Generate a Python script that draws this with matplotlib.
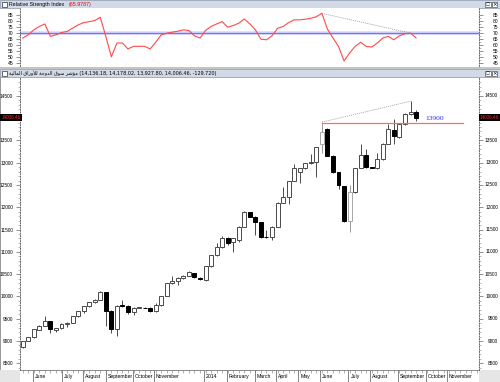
import matplotlib
matplotlib.use("Agg")
import matplotlib.pyplot as plt
from matplotlib.patches import Rectangle
import numpy as np

plt.rcParams['font.family'] = ['Liberation Sans', 'DejaVu Sans']

# ---------------- data ----------------
opens = [8860, 9005, 9080, 9255, 9345, 9440, 9250, 9295, 9380, 9410,
         9560, 9665, 9780, 9870, 9920, 10090, 9680, 9260, 9810, 9790,
         9645, 9750, 9750, 9750, 9670, 9800, 10010, 10295, 10345, 10420,
         10460, 10520, 10420, 10380, 10675, 10920, 11100, 11300, 11220, 11270,
         11560, 11900, 11790, 11660, 11340, 11340, 11560, 12105, 12230, 12590,
         12800, 12870, 12990, 13015, 13410, 13760, 13160, 12790, 12470, 11690,
         12340, 12880, 13165, 12900, 12870, 13090, 13430, 13735, 13570, 13870,
         14090, 14136.18]
highs = [9010, 9090, 9270, 9360, 9560, 9450, 9300, 9395, 9420, 9570,
         9675, 9790, 9880, 9935, 10115, 10100, 9690, 9800, 9920, 9800,
         9770, 9770, 9760, 9760, 9860, 10020, 10300, 10460, 10430, 10470,
         10560, 10530, 10430, 10680, 10925, 11190, 11350, 11340, 11310, 11570,
         11910, 11905, 11800, 11670, 11480, 11570, 12110, 12450, 12600, 12980,
         12880, 13000, 13200, 13360, 13910, 13770, 13170, 12800, 12480, 12490,
         12890, 13410, 13310, 12910, 13220, 13440, 13870, 13980, 13880, 14120,
         14380, 14178.02]
lows = [8850, 8990, 9060, 9240, 9330, 9170, 9210, 9280, 9320, 9400,
        9550, 9620, 9770, 9860, 9910, 9345, 9190, 9110, 9770, 9600,
        9585, 9740, 9730, 9660, 9650, 9790, 10000, 10290, 10260, 10400,
        10450, 10420, 10370, 10350, 10670, 10910, 11090, 11150, 11000, 11230,
        11550, 11780, 11370, 11320, 11320, 11260, 11550, 12090, 12080, 12580,
        12545, 12860, 12980, 12670, 13220, 13150, 12780, 12420, 11660, 11450,
        12330, 12870, 12890, 12880, 12860, 13050, 13420, 13420, 13560, 13840,
        14070, 13927.80]
closes = [9000, 9080, 9260, 9345, 9440, 9260, 9295, 9380, 9410, 9560,
          9665, 9780, 9870, 9920, 10105, 9680, 9260, 9790, 9790, 9640,
          9740, 9755, 9745, 9680, 9800, 10010, 10295, 10345, 10420, 10460,
          10550, 10430, 10385, 10675, 10920, 11100, 11300, 11190, 11300, 11560,
          11900, 11790, 11660, 11340, 11335, 11560, 12105, 12230, 12590, 12870,
          12870, 12990, 13015, 13350, 13690, 13160, 12790, 12490, 11690, 12340,
          12880, 13165, 12900, 12890, 13090, 13430, 13760, 13590, 13870, 14090,
          14136.18, 14006.46]
rsi = [65.9, 68.6, 72.7, 75.5, 77.6, 67.3, 68.6, 70.5, 71.4, 74.1,
       76.8, 78.7, 79.5, 80.4, 83.1, 67.3, 50.4, 61.8, 61.8, 56.9,
       59.1, 59.1, 59.1, 56.9, 62.4, 68.6, 70.0, 70.8, 71.6, 72.7,
       72.2, 67.8, 65.9, 72.2, 75.5, 77.6, 79.5, 74.9, 76.3, 78.2,
       81.7, 77.6, 72.7, 65.0, 64.5, 67.8, 74.0, 75.5, 78.7, 81.0,
       81.0, 81.5, 82.3, 83.6, 86.4, 73.3, 66.0, 59.0, 47.0, 53.6,
       59.0, 62.4, 59.0, 58.5, 61.8, 66.0, 67.3, 64.5, 67.8, 69.5,
       70.0, 65.98]
rsi_last = 65.9787

month_labels = ["June", "July", "August", "September", "October", "November",
                "2014", "February", "March", "April", "May", "June", "July",
                "August", "September", "October", "November"]
month_pos = [1.91, 7.09, 10.94, 15.04, 19.96, 23.7, 32.7, 36.8, 41.9, 45.8,
             49.75, 53.7, 58.8, 62.7, 67.8, 72.75, 76.6]

price_ticks = [8500, 9000, 9500, 10000, 10500, 11000, 11500, 12000, 12500,
               13000, 13500, 14000, 14500]
price_labels_shown = [8500, 9000, 9500, 10000, 10500, 11000, 11500, 12000,
                      12500, 13000, 13500, 14500]
rsi_ticks = [45, 50, 55, 60, 65, 70, 75, 80, 85]

support_level = 13900
rsi_level = 70
trend_bars = [54, 70]
gray_bars = [54, 59]

index_name = "مؤشر سوق الدوحة للأوراق المالية"

# ------------- Arabic shaping (visual order) -------------
AR_FORMS = {
    'ا': ('\uFE8D', '\uFE8E', None, None),
    'أ': ('\uFE83', '\uFE84', None, None),
    'ؤ': ('\uFE85', '\uFE86', None, None),
    'د': ('\uFEA9', '\uFEAA', None, None),
    'ر': ('\uFEAD', '\uFEAE', None, None),
    'و': ('\uFEED', '\uFEEE', None, None),
    'ة': ('\uFE93', '\uFE94', None, None),
    'م': ('\uFEE1', '\uFEE2', '\uFEE3', '\uFEE4'),
    'ش': ('\uFEB5', '\uFEB6', '\uFEB7', '\uFEB8'),
    'س': ('\uFEB1', '\uFEB2', '\uFEB3', '\uFEB4'),
    'ق': ('\uFED5', '\uFED6', '\uFED7', '\uFED8'),
    'ل': ('\uFEDD', '\uFEDE', '\uFEDF', '\uFEE0'),
    'ح': ('\uFEA1', '\uFEA2', '\uFEA3', '\uFEA4'),
    'ي': ('\uFEF1', '\uFEF2', '\uFEF3', '\uFEF4'),
}
LAM_ALEF = {'ا': ('\uFEFB', '\uFEFC'), 'أ': ('\uFEF7', '\uFEF8')}


def shape_word(w):
    units = []
    i = 0
    while i < len(w):
        if w[i] == 'ل' and i + 1 < len(w) and w[i + 1] in LAM_ALEF:
            units.append(('LA', w[i + 1]))
            i += 2
        else:
            units.append(('C', w[i]))
            i += 1

    def dual(u):
        return u[0] == 'C' and u[1] in AR_FORMS and AR_FORMS[u[1]][2] is not None

    out = []
    for k, u in enumerate(units):
        prev_conn = k > 0 and dual(units[k - 1])
        if u[0] == 'LA':
            out.append(LAM_ALEF[u[1]][1 if prev_conn else 0])
            continue
        if u[1] not in AR_FORMS:
            out.append(u[1])
            continue
        f = AR_FORMS[u[1]]
        next_conn = dual(u) and k + 1 < len(units)
        if prev_conn and next_conn:
            out.append(f[3])
        elif prev_conn:
            out.append(f[1])
        elif next_conn:
            out.append(f[2])
        else:
            out.append(f[0])
    return ''.join(out)


def shape(text):
    return ' '.join(shape_word(w)[::-1] for w in reversed(text.split(' ')))


# ---------------- figure ----------------
W, H = 500, 382
fig = plt.figure(figsize=(W / 100, H / 100), dpi=100)
fig.patch.set_facecolor('white')

bg = fig.add_axes([0, 0, 1, 1], zorder=0)
bg.set_xlim(0, W)
bg.set_ylim(H, 0)
bg.axis('off')

title_col = '#d3dae7'
title_edge = '#97a3b8'
bg.add_patch(Rectangle((0, 0), W, 8, facecolor=title_col, edgecolor=title_edge, lw=0.6))
bg.add_patch(Rectangle((0, 66.5), W, 2.5, facecolor='#c4c4c4', edgecolor='none'))
bg.add_patch(Rectangle((0, 69), W, 8, facecolor=title_col, edgecolor=title_edge, lw=0.6))
for y0 in (1.5, 70.5):
    bg.add_patch(Rectangle((2, y0), 5, 5, facecolor='white', edgecolor='#333333', lw=0.5))
    bg.add_patch(Rectangle((485, y0), 5.5, 5.5, facecolor='white', edgecolor='#555555', lw=0.5))
    bg.add_patch(Rectangle((491.5, y0), 5.5, 5.5, facecolor='white', edgecolor='#555555', lw=0.5))
    bg.text(487.75, y0 + 2.9, '□', fontsize=3, ha='center', va='center', family='DejaVu Sans')
    bg.text(494.25, y0 + 2.9, '×', fontsize=4, ha='center', va='center', family='DejaVu Sans')
bg.add_patch(Rectangle((0, 370), 20, 12, facecolor='#e6e6e6', edgecolor='none'))
bg.add_patch(Rectangle((479, 370), 21, 12, facecolor='#e6e6e6', edgecolor='none'))
bg.add_patch(Rectangle((0, 77), 1.2, 293, facecolor='#9a9a9a', edgecolor='none'))

bg.text(9, 4.2, "Relative Strength Index", fontsize=3.8, va='center', ha='left', color='black')
bg.text(68.5, 4.2, "(%.4f)" % rsi_last, fontsize=3.8, va='center', ha='left', color='#e00000')

o_l, h_l, l_l, c_l = opens[-1], highs[-1], lows[-1], closes[-1]
chg = c_l - closes[-2]
main_title = shape(index_name) + " (%s, %s, %s, %s, %s)" % (
    format(o_l, ',.2f'), format(h_l, ',.2f'), format(l_l, ',.2f'),
    format(c_l, ',.2f'), format(chg, ',.3f'))
bg.text(9, 73.2, main_title, fontsize=3.5, va='center', ha='left', color='black',
        family=['DejaVu Sans'])

x = np.arange(len(closes))
xlim = (-0.49, 82.36)

# ---------------- RSI panel ----------------
ax_r = fig.add_axes([20 / W, 1 - 66 / H, 459 / W, 58 / H], zorder=1)
ax_r.set_xlim(*xlim)
ax_r.set_ylim(42.8, 90.8)
ax_r.axhline(rsi_level, color='#d8d8ff', lw=2.6, zorder=1)
ax_r.axhline(rsi_level, color='#7373f5', lw=0.9, zorder=2)
ax_r.plot(x, rsi, color='#ff4a4a', lw=0.8, zorder=3)
ax_r.plot([trend_bars[0], trend_bars[1]], [rsi[trend_bars[0]], rsi[trend_bars[1]]],
          color='#9a9a9a', lw=0.6, ls=(0, (1.2, 1.2)), zorder=4)
ax_r.set_xticks([])
ax_r.set_yticks(rsi_ticks)
ax_r.set_yticks(np.arange(45, 86, 2.5), minor=True)
ax_r.tick_params(axis='y', which='major', left=True, right=True, labelleft=True,
                 labelright=False, length=3, width=0.5, color='#666666',
                 labelsize=3.6, pad=2)
ax_r.tick_params(axis='y', which='minor', left=True, right=True, length=1.5,
                 width=0.4, color='#888888')
for t in rsi_ticks:
    ax_r.text(1.0414, t, str(t), transform=ax_r.get_yaxis_transform(),
              ha='right', va='center', fontsize=3.6, clip_on=False)
for s in ['top', 'bottom']:
    ax_r.spines[s].set_visible(False)
for s in ['left', 'right']:
    ax_r.spines[s].set_linestyle(':')
    ax_r.spines[s].set_color('#666666')
    ax_r.spines[s].set_linewidth(0.7)

# ---------------- main price panel ----------------
ax = fig.add_axes([20 / W, 1 - 370 / H, 459 / W, 292 / H], zorder=1)
ax.set_xlim(*xlim)
ax.set_ylim(8350, 14900)

body_w = 0.72
for i in range(len(closes)):
    o, hi, lo, c = opens[i], highs[i], lows[i], closes[i]
    up = c >= o
    edge = '#a8a8a8' if i in gray_bars else '#4a4a4a'
    wick_col = '#9a9a9a' if i in gray_bars else '#4a4a4a'
    ax.vlines(x[i], lo, hi, color=wick_col, lw=0.7, zorder=2)
    ax.bar(x[i], c - o, bottom=o, width=body_w,
           facecolor='white' if up else 'black',
           edgecolor=edge if up else 'black', lw=0.7, zorder=3)

ax.plot([trend_bars[0], 79.5], [support_level, support_level], color='#ff6b6b',
        lw=0.9, zorder=4)
ax.text(72.6, support_level + 25, str(support_level), color='#2b2bff', fontsize=5.4,
        family='Liberation Serif', ha='left', va='bottom', zorder=5)
ax.plot(trend_bars, [highs[trend_bars[0]], highs[trend_bars[1]]],
        color='#9a9a9a', lw=0.6, ls=(0, (1.2, 1.2)), zorder=4)

ax.set_yticks(price_ticks)
ax.set_yticks(np.arange(8400, 14900, 100), minor=True)
ax.set_yticklabels([str(t) if t in price_labels_shown else '' for t in price_ticks])
ax.tick_params(axis='y', which='major', left=True, right=True, labelleft=True,
               labelright=False, length=3, width=0.5, color='#666666',
               labelsize=3.4, pad=2)
ax.tick_params(axis='y', which='minor', left=True, right=True, length=1.2,
               width=0.4, color='#888888')
for t in price_labels_shown:
    ax.text(1.0414, t, str(t), transform=ax.get_yaxis_transform(),
            ha='right', va='center', fontsize=3.4, clip_on=False)

for xf in (-0.0195, 1.0225):
    ax.text(xf, c_l, "%.2f" % c_l, transform=ax.get_yaxis_transform(),
            ha='center', va='center', fontsize=3.3, color='#ff2a2a', clip_on=False,
            zorder=10, bbox=dict(boxstyle='square,pad=0.25', facecolor='black',
                                 edgecolor='none'))

ax.set_xticks(month_pos)
ax.set_xticklabels([])
ax.set_xticks(np.arange(0, 83, 1), minor=True)
ax.tick_params(axis='x', which='major', direction='out', length=9, width=0.5,
               color='#555555', bottom=True, top=False)
ax.tick_params(axis='x', which='minor', direction='out', length=2, width=0.4,
               color='#777777', bottom=True, top=False)
for p, lab in zip(month_pos, month_labels):
    ax.text(p + 0.35, -0.021, lab, transform=ax.get_xaxis_transform(), ha='left',
            va='center', fontsize=3.7, clip_on=False)

ax.spines['top'].set_visible(False)
ax.spines['bottom'].set_color('#777777')
ax.spines['bottom'].set_linewidth(0.6)
for s in ['left', 'right']:
    ax.spines[s].set_linestyle(':')
    ax.spines[s].set_color('#666666')
    ax.spines[s].set_linewidth(0.7)

fig.savefig('out.png', dpi=100)
